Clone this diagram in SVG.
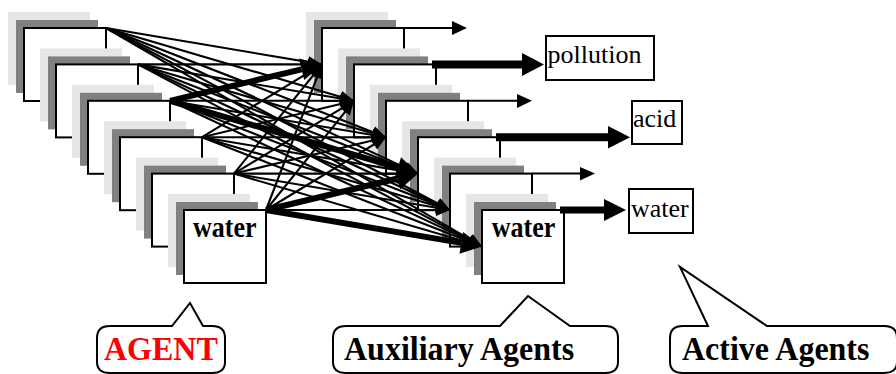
<svg xmlns="http://www.w3.org/2000/svg" width="896" height="374" viewBox="0 0 896 374">
<style>
.lg{fill:#e6e6e6}
.dg{fill:#808080}
.wb{fill:#fff;stroke:#000;stroke-width:2}
.c{stroke:#000;stroke-width:2.1;fill:none;marker-end:url(#ah)}
.ct{stroke:#000;stroke-width:6;fill:none;marker-end:url(#aht)}
.o{stroke:#000;stroke-width:2;fill:none}
.ot{stroke:#000;stroke-width:8;fill:none;stroke-linecap:butt}
.lb{fill:#fff;stroke:#000;stroke-width:2}
.co{fill:#fff;stroke:#000;stroke-width:2;stroke-linejoin:miter}
.t{font-family:"Liberation Serif","Times New Roman",serif;font-size:26px;fill:#000}
.b{font-family:"Liberation Serif","Times New Roman",serif;font-weight:bold;fill:#000}
</style>
<defs>
<marker id="ah" markerUnits="userSpaceOnUse" markerWidth="15" markerHeight="12" refX="14" refY="6" orient="auto" overflow="visible"><path d="M0,0 L14,6 L0,12 Z" fill="#000"/></marker>
<marker id="aht" markerUnits="userSpaceOnUse" markerWidth="22" markerHeight="22" refX="0" refY="11" orient="auto" overflow="visible"><path d="M0,0 L21,11 L0,22 Z" fill="#000"/></marker>
<g id="stk"><rect class="lg" x="-16" y="-16" width="82" height="73"/><rect class="dg" x="-8" y="-8" width="82" height="73"/><rect class="wb" x="0" y="0" width="82" height="73"/></g>
</defs>

<g id="agent-stack">
<g id="agent1" transform="translate(24,28)"><use href="#stk"/></g>
<g id="agent2" transform="translate(56,64.4)"><use href="#stk"/></g>
<g id="agent3" transform="translate(88,100.8)"><use href="#stk"/></g>
<g id="agent4" transform="translate(120,137.2)"><use href="#stk"/></g>
<g id="agent5" transform="translate(152,173.6)"><use href="#stk"/></g>
<g id="agent6" transform="translate(184,210)"><use href="#stk"/><text class="b" font-size="26" transform="translate(9,26.7) scale(1,1.1)">water</text></g>
</g>

<g id="aux-stack">
<g id="aux1" transform="translate(322,28)"><use href="#stk"/></g>
<g id="aux2" transform="translate(354,64.4)"><use href="#stk"/></g>
<g id="aux3" transform="translate(386,100.8)"><use href="#stk"/></g>
<g id="aux4" transform="translate(418,137.2)"><use href="#stk"/></g>
<g id="aux5" transform="translate(450,173.6)"><use href="#stk"/></g>
<g id="aux6" transform="translate(482,210)"><use href="#stk"/><text class="b" font-size="26" transform="translate(9.7,26.7) scale(1,1.1)">water</text></g>
</g>

<g id="connectors">
<line class="c" x1="106" y1="28" x2="322" y2="64.4"/>
<line class="c" x1="106" y1="28" x2="354" y2="100.8"/>
<line class="c" x1="106" y1="28" x2="386" y2="137.2"/>
<line class="c" x1="106" y1="28" x2="418" y2="173.6"/>
<line class="c" x1="106" y1="28" x2="450" y2="210"/>
<line class="c" x1="106" y1="28" x2="482" y2="246.4"/>
<line class="c" x1="138" y1="64.4" x2="322" y2="64.4"/>
<line class="c" x1="138" y1="64.4" x2="354" y2="100.8"/>
<line class="c" x1="138" y1="64.4" x2="386" y2="137.2"/>
<line class="c" x1="138" y1="64.4" x2="418" y2="173.6"/>
<line class="c" x1="138" y1="64.4" x2="450" y2="210"/>
<line class="c" x1="138" y1="64.4" x2="482" y2="246.4"/>
<line class="c" x1="170" y1="100.8" x2="354" y2="100.8"/>
<line class="c" x1="170" y1="100.8" x2="386" y2="137.2"/>
<line class="c" x1="170" y1="100.8" x2="450" y2="210"/>
<line class="c" x1="170" y1="100.8" x2="482" y2="246.4"/>
<line class="c" x1="202" y1="137.2" x2="322" y2="64.4"/>
<line class="c" x1="202" y1="137.2" x2="354" y2="100.8"/>
<line class="c" x1="202" y1="137.2" x2="386" y2="137.2"/>
<line class="c" x1="202" y1="137.2" x2="418" y2="173.6"/>
<line class="c" x1="202" y1="137.2" x2="450" y2="210"/>
<line class="c" x1="202" y1="137.2" x2="482" y2="246.4"/>
<line class="c" x1="234" y1="173.6" x2="322" y2="64.4"/>
<line class="c" x1="234" y1="173.6" x2="354" y2="100.8"/>
<line class="c" x1="234" y1="173.6" x2="386" y2="137.2"/>
<line class="c" x1="234" y1="173.6" x2="418" y2="173.6"/>
<line class="c" x1="234" y1="173.6" x2="450" y2="210"/>
<line class="c" x1="234" y1="173.6" x2="482" y2="246.4"/>
<line class="c" x1="266" y1="210" x2="322" y2="64.4"/>
<line class="c" x1="266" y1="210" x2="354" y2="100.8"/>
<line class="c" x1="266" y1="210" x2="386" y2="137.2"/>
<line class="c" x1="266" y1="210" x2="450" y2="210"/>
<line class="ct" x1="170" y1="100.8" x2="301.6" y2="69.3"/>
<line class="ct" x1="170" y1="100.8" x2="397.9" y2="167.7"/>
<line class="ct" x1="266" y1="210" x2="397.6" y2="178.5"/>
<line class="ct" x1="266" y1="210" x2="461.3" y2="242.9"/>
<line class="o" x1="404" y1="28" x2="453" y2="28"/>
<polygon points="452,21 467,28 452,35"/>
<line class="ot" x1="432" y1="64.6" x2="523" y2="64.6"/>
<polygon points="522,53 544,64.6 522,76"/>
<line class="o" x1="468" y1="100.8" x2="518" y2="100.8"/>
<polygon points="517,94 532,100.8 517,108"/>
<line class="ot" x1="496" y1="137.2" x2="609" y2="137.2"/>
<polygon points="608,126 630,137.2 608,148.5"/>
<line class="o" x1="532" y1="173.6" x2="581" y2="173.6"/>
<polygon points="580,167 595,173.6 580,180.5"/>
<line class="ot" style="stroke-width:7" x1="560" y1="210" x2="605" y2="210"/>
<polygon points="604,199 626,210 604,221"/>
</g>

<g id="pollution"><rect class="lb" x="546" y="36" width="108" height="44"/><text class="t" x="547.5" y="63">pollution</text></g>
<g id="acid"><rect class="lb" x="632" y="101" width="50" height="43"/><text class="t" x="633" y="127.3">acid</text></g>
<g id="water-out"><rect class="lb" x="629" y="189" width="64" height="44"/><text class="t" x="631" y="216.7">water</text></g>

<g id="callout-agent"><path class="co" d="M97,338 Q97,326 110,326 L172,326 L190,303 L203,326 L212,326 Q225,326 225,338 L225,362 Q225,373 212,373 L110,373 Q97,373 97,362 Z"/><text class="b" font-size="32" style="fill:#ff0000" transform="translate(104,360) scale(1,1.08)">AGENT</text></g>
<g id="callout-aux"><path class="co" d="M333,338 Q333,326 346,326 L500,326 L528,296 L570,326 L605,326 Q618,326 618,338 L618,362 Q618,373 605,373 L346,373 Q333,373 333,362 Z"/><text class="b" font-size="32" transform="translate(344,360) scale(1,1.08)">Auxiliary Agents</text></g>
<g id="callout-active"><path class="co" d="M670,338 Q670,326 683,326 L708,326 L680,267 L767,326 L884,326 Q897,326 897,338 L897,362 Q897,373 884,373 L683,373 Q670,373 670,362 Z"/><text class="b" font-size="32" transform="translate(682,360) scale(1,1.08)">Active Agents</text></g>
</svg>
